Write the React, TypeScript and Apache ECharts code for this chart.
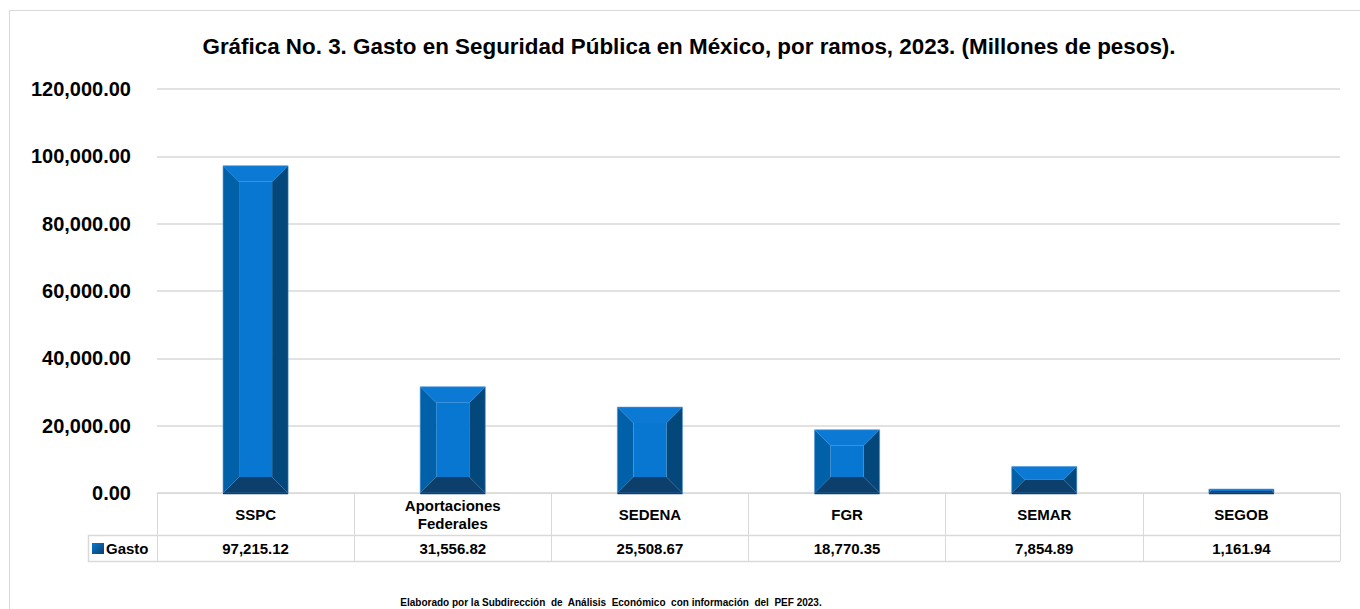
import React, { useEffect, useRef } from "react";
import * as echarts from "echarts";

const categories = ["SSPC", "Aportaciones\nFederales", "SEDENA", "FGR", "SEMAR", "SEGOB"];
const gasto = [97215.12, 31556.82, 25508.67, 18770.35, 7854.89, 1161.94];
const seriesName = "Gasto";
const titleText = "Gráfica No. 3. Gasto en Seguridad Pública en México, por ramos, 2023. (Millones de pesos).";
const footText = "Elaborado por la Subdirección  de  Análisis  Económico  con información  del  PEF 2023.";

const fmt = (v: number) =>
  v.toLocaleString("en-US", { minimumFractionDigits: 2, maximumFractionDigits: 2 });

const FONT = "'Liberation Sans', Arial, sans-serif";
const GRID_LEFT = 157;
const GRID_RIGHT_X = 1340;
const AXIS_Y = 493;
const ROW_Y = 535;
const TABLE_BOTTOM = 561;
const LINE_COLOR = "#d9d9d9";

export default function App() {
  const ref = useRef<HTMLDivElement>(null);
  useEffect(() => {
    if (!ref.current) return;
    const chart = echarts.init(ref.current, null, { renderer: "svg" });
    const option: any = {
      animation: false,
      backgroundColor: "#ffffff",
      textStyle: { fontFamily: FONT },
      title: [
        {
          text: titleText,
          left: 689,
          top: 35,
          padding: 0,
          textAlign: "center",
          textStyle: { fontFamily: FONT, fontSize: 22.4, fontWeight: "bold", color: "#000" },
        },
        {
          text: footText,
          left: 611,
          top: 597,
          padding: 0,
          textAlign: "center",
          textStyle: { fontFamily: FONT, fontSize: 10, fontWeight: "bold", color: "#000" },
        },
      ],
      legend: {
        data: [seriesName],
        left: 92,
        top: 541,
        padding: 0,
        icon: "rect",
        itemWidth: 12,
        itemHeight: 11,
        itemGap: 2,
        textStyle: { fontFamily: FONT, fontSize: 15, fontWeight: "bold", color: "#000", padding: [0, 0, 0, -3] },
      },
      grid: { left: GRID_LEFT, right: 1360 - GRID_RIGHT_X, top: 89, bottom: 609 - AXIS_Y },
      xAxis: [
        {
          type: "category",
          data: categories,
          position: "bottom",
          axisLine: { show: true, lineStyle: { color: LINE_COLOR, width: 1 } },
          axisTick: { show: true, interval: 0, length: TABLE_BOTTOM - AXIS_Y, lineStyle: { color: LINE_COLOR, width: 1 } },
          axisLabel: {
            interval: 0,
            margin: 21,
            verticalAlign: "middle",
            lineHeight: 18,
            fontFamily: FONT,
            fontSize: 15,
            fontWeight: "bold",
            color: "#000",
          },
          splitLine: { show: false },
        },
        {
          type: "category",
          data: categories,
          position: "bottom",
          axisLine: { show: false },
          axisTick: { show: false },
          axisLabel: {
            interval: 0,
            margin: 55,
            verticalAlign: "middle",
            fontFamily: FONT,
            fontSize: 15,
            fontWeight: "bold",
            color: "#000",
            formatter: (_v: string, i: number) => fmt(gasto[i]),
          },
        },
      ],
      yAxis: {
        type: "value",
        min: 0,
        max: 120000,
        interval: 20000,
        axisLine: { show: false },
        axisTick: { show: false },
        axisLabel: {
          margin: 26,
          fontFamily: FONT,
          fontSize: 20,
          fontWeight: "bold",
          color: "#000",
          formatter: (v: number) => fmt(v),
        },
        splitLine: { lineStyle: { color: LINE_COLOR, width: 1.5 } },
      },
      graphic: [
        {
          type: "rect",
          shape: { x: 9.5, y: 10.5, width: 1400, height: 700 },
          style: { fill: "none", stroke: LINE_COLOR, lineWidth: 1 },
          silent: true,
          z: -10,
        },
        {
          type: "line",
          shape: { x1: 88, y1: ROW_Y + 0.5, x2: GRID_RIGHT_X, y2: ROW_Y + 0.5 },
          style: { stroke: LINE_COLOR, lineWidth: 1.5 },
          silent: true,
        },
        {
          type: "line",
          shape: { x1: 88, y1: TABLE_BOTTOM + 0.5, x2: GRID_RIGHT_X, y2: TABLE_BOTTOM + 0.5 },
          style: { stroke: LINE_COLOR, lineWidth: 1.5 },
          silent: true,
        },
        {
          type: "line",
          shape: { x1: 88.5, y1: ROW_Y, x2: 88.5, y2: TABLE_BOTTOM + 1 },
          style: { stroke: LINE_COLOR, lineWidth: 1.5 },
          silent: true,
        },
      ],
      series: [
        {
          name: seriesName,
          type: "custom",
          itemStyle: {
            color: new echarts.graphic.LinearGradient(0, 0, 1, 1, [
              { offset: 0, color: "#0b78d2" },
              { offset: 1, color: "#0a3f6c" },
            ]),
          },
          data: gasto.map((v, i) => [i, v]),
          renderItem: (params: any, api: any) => {
            const xi = api.value(0);
            const v = api.value(1);
            const top = api.coord([xi, v]);
            const base = api.coord([xi, 0]);
            const w = api.size([1, 0])[0] * 0.33;
            const l = top[0] - w / 2;
            const r = top[0] + w / 2;
            const t = top[1];
            const b = base[1];
            const h = b - t;
            const d = Math.min(16, h / 2, w / 2);
            return {
              type: "group",
              children: [
                { type: "polygon", shape: { points: [[l, t], [r, t], [r - d, t + d], [l + d, t + d]] }, style: { fill: "#0c7ad5" } },
                { type: "polygon", shape: { points: [[l, t], [l + d, t + d], [l + d, b - d], [l, b]] }, style: { fill: "#0060a8" } },
                { type: "polygon", shape: { points: [[r, t], [r, b], [r - d, b - d], [r - d, t + d]] }, style: { fill: "#04477b" } },
                { type: "polygon", shape: { points: [[l, b], [l + d, b - d], [r - d, b - d], [r, b]] }, style: { fill: "#0c3f6b" } },
                { type: "rect", shape: { x: l + d, y: t + d, width: Math.max(0, w - 2 * d), height: Math.max(0, h - 2 * d) }, style: { fill: "#0877d2" } },
                { type: "rect", shape: { x: l, y: t, width: w, height: h }, style: { fill: "none", stroke: "#4b92d6", lineWidth: 0.6 } },
                { type: "line", shape: { x1: l, y1: b + 0.5, x2: r, y2: b + 0.5 }, style: { stroke: "#0d3f6b", lineWidth: 1.5 } },
              ],
            };
          },
        },
      ],
    };
    chart.setOption(option);
    return () => chart.dispose();
  }, []);
  return (
    <div
      ref={ref}
      style={{ position: "fixed", left: 0, top: 0, width: 1360, height: 609, background: "#fff" }}
    />
  );
}
